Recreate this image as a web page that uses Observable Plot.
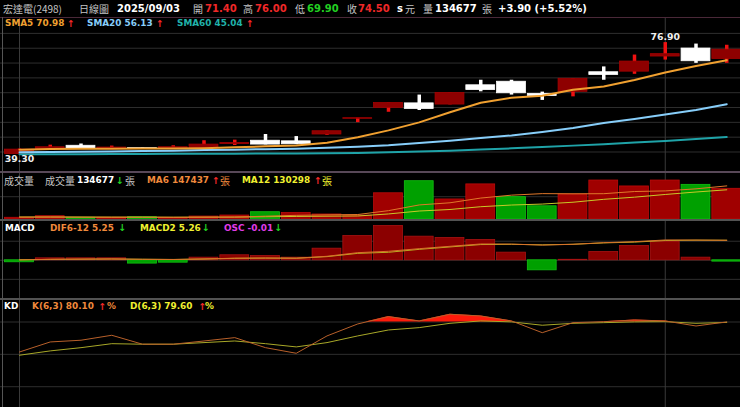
<!DOCTYPE html>
<html>
<head>
<meta charset="utf-8">
<script src="https://cdn.jsdelivr.net/npm/d3@7"></script>
<script src="https://cdn.jsdelivr.net/npm/@observablehq/plot@0.6"></script>
<style>
  html, body { margin: 0; padding: 0; background: #000; }
  #chart { position: relative; width: 740px; height: 407px; background: #000; overflow: hidden; }
  #chart svg { position: absolute; left: 0; }
  .ln { position: absolute; }
</style>
</head>
<body>
<div id="chart"></div>
<script>
// ---------------- data ----------------
const stockName = "宏達電";
const stockCode = "2498";
const periodName = "日線圖";
const dates = ["2025/08/01","2025/08/04","2025/08/05","2025/08/06","2025/08/07","2025/08/08","2025/08/11","2025/08/12",
  "2025/08/13","2025/08/14","2025/08/15","2025/08/18","2025/08/19","2025/08/20","2025/08/21","2025/08/22",
  "2025/08/25","2025/08/26","2025/08/27","2025/08/28","2025/08/29","2025/09/01","2025/09/02","2025/09/03"];
const open  = [39.3, 41.0, 42.1, 41.1, 41.3, 41.2, 41.3, 42.7, 43.8, 43.6, 45.9, 51.2, 54.9, 56.4, 56.0, 62.5, 63.7, 59.6, 60.3, 66.9, 67.1, 72.2, 74.9, 71.4];
const high  = [41.0, 42.3, 42.7, 42.0, 41.4, 42.1, 43.8, 44.0, 45.9, 45.2, 47.1, 51.4, 56.5, 59.2, 59.9, 64.2, 64.2, 60.2, 64.7, 68.7, 72.7, 76.9, 76.4, 76.0];
const low   = [39.3, 40.9, 41.0, 41.0, 40.9, 41.0, 41.2, 42.2, 42.4, 42.5, 45.6, 49.9, 53.4, 54.0, 55.9, 60.3, 59.2, 57.4, 58.6, 64.2, 66.2, 71.0, 69.9, 69.9];
const close = [40.8, 41.6, 41.1, 41.5, 41.1, 41.6, 42.5, 43.0, 42.5, 42.6, 47.0, 51.4, 56.5, 54.5, 59.9, 60.9, 59.8, 58.9, 64.7, 66.0, 70.5, 73.0, 70.6, 74.5];
const sma5  = [40.8, 41.0, 41.1, 41.1, 41.2, 41.2, 41.3, 41.6, 41.9, 42.2, 43.1, 45.0, 47.3, 50.0, 53.4, 56.6, 58.3, 59.0, 61.0, 62.1, 64.3, 66.8, 69.0, 70.98];
const sma20 = [39.9, 40.0, 40.1, 40.2, 40.3, 40.45, 40.65, 40.8, 40.95, 41.1, 41.4, 41.8, 42.25, 43.0, 43.8, 44.7, 45.6, 46.75, 48.1, 49.8, 51.15, 52.65, 54.2, 56.13];
const sma60 = [39.2, 39.23, 39.27, 39.3, 39.33, 39.37, 39.4, 39.44, 39.47, 39.5, 39.57, 39.67, 39.88, 40.15, 40.45, 40.82, 41.23, 41.67, 42.15, 42.65, 43.2, 43.75, 44.4, 45.04];
const volume = [7500, 14500, 7500, 7500, 10000, 7500, 13000, 17500, 32000, 29000, 22000, 17500, 115000, 168000, 88000, 154000, 98000, 58000, 110000, 171000, 145000, 171000, 152000, 134677];
const volMa6  = [10000, 10500, 10000, 9500, 9800, 9000, 9900, 10500, 14600, 18200, 20200, 21800, 38800, 63900, 73300, 94100, 106800, 113500, 112700, 113200, 122700, 125500, 134500, 147437];
const volMa12 = [11000, 11000, 10800, 10500, 10400, 10200, 10300, 10500, 12000, 13500, 14500, 15400, 24400, 37200, 43900, 56100, 63500, 67700, 75750, 88500, 98000, 109800, 120600, 130298];
const dif  = [0.10, 0.25, 0.30, 0.35, 0.25, 0.20, 0.35, 0.55, 0.60, 0.55, 1.05, 2.00, 2.36, 3.05, 3.67, 4.28, 4.25, 3.98, 4.20, 4.62, 4.88, 5.33, 5.30, 5.25];
const macd = [0.12, 0.24, 0.29, 0.34, 0.28, 0.22, 0.33, 0.51, 0.57, 0.53, 0.96, 1.82, 2.10, 2.87, 3.50, 4.13, 4.19, 4.06, 4.20, 4.56, 4.77, 5.19, 5.28, 5.26];
const osc  = [-0.015, 0.015, 0.015, 0.015, -0.025, -0.018, 0.02, 0.038, 0.033, 0.02, 0.088, 0.184, 0.26, 0.179, 0.169, 0.154, 0.058, -0.076, 0.004, 0.063, 0.108, 0.139, 0.02, -0.01];
const kLine = [52.2, 61.5, 63.1, 67.7, 59.4, 59.4, 62.4, 65.5, 56.2, 51.0, 67.1, 78.2, 85.0, 81.0, 87.2, 85.6, 81.0, 70.1, 79.4, 80.3, 81.9, 81.0, 76.3, 80.10];
const dLine = [49.2, 53.2, 56.2, 59.9, 59.4, 59.4, 60.9, 62.4, 59.9, 56.9, 60.9, 67.1, 72.6, 74.8, 78.8, 81.0, 80.1, 77.0, 78.8, 79.4, 80.1, 80.3, 78.8, 79.60];
const priceGrid = [40, 45, 50, 55, 60, 65, 70, 75, 80];
const volumeGrid = [100000];
const macdGrid = [-5, 0, 5];
const kdGrid = [20, 50, 80];
const kdOverbought = 80;

// ---------------- derived table ----------------
const L = dates.length - 1;
const bars = dates.map((date, i) => ({
  i, date, open: open[i], high: high[i], low: low[i], close: close[i],
  sma5: sma5[i], sma20: sma20[i], sma60: sma60[i],
  volume: volume[i], vma6: volMa6[i], vma12: volMa12[i],
  dif: dif[i], macd: macd[i], osc: osc[i], k: kLine[i], d: dLine[i],
  candleUp: close[i] >= open[i],
  dayUp: i === 0 ? true : close[i] >= close[i - 1]
}));
const monthStarts = bars.filter((b, i) => i === 0 || b.date.slice(0, 7) !== bars[i - 1].date.slice(0, 7)).map(b => b.i);
const hiBar = bars.reduce((a, b) => b.high > a.high ? b : a);
const loBar = bars.reduce((a, b) => b.low < a.low ? b : a);
// K above overbought level, with crossing points so the red fill ends at the line
const kFill = [];
bars.forEach((b, i) => {
  kFill.push({x: b.i, y: Math.max(b.k, kdOverbought)});
  const n = bars[i + 1];
  if (n && (b.k - kdOverbought) * (n.k - kdOverbought) < 0) {
    kFill.push({x: b.i + (kdOverbought - b.k) / (n.k - b.k), y: kdOverbought});
  }
});

// ---------------- layout ----------------
const chart = document.getElementById("chart");
const xScale = {domain: [-0.5, 23.5], range: [3.625, 741.625], axis: null};
const GRID = "#2e2e2e", VGRID = "#3a3a3a";
const RED_BODY = "#8e0000", RED_WICK = "#ee1111", WHITE = "#ffffff";
const VOL_RED = "#a00000", VOL_GREEN = "#00a000";

function panel(top, height, yDomain, marks) {
  const svg = Plot.plot({
    width: 740, height,
    marginTop: 0, marginBottom: 0, marginLeft: 0, marginRight: 0,
    x: xScale,
    y: {domain: yDomain, range: [height, 0], axis: null},
    color: {type: "identity"},
    style: {background: "transparent", overflow: "hidden", maxWidth: "none"},
    marks
  });
  svg.style.top = top + "px";
  chart.appendChild(svg);
}
const band = {x1: d => d.i - 0.5, x2: d => d.i + 0.5, insetLeft: 0.95, insetRight: 0.95};

// price panel
panel(17, 154, [33.423, 85.363], [
  Plot.ruleY(priceGrid, {stroke: GRID}),
  Plot.ruleX(monthStarts, {stroke: VGRID}),
  Plot.ruleX(bars, {x: "i", y1: "low", y2: "high", stroke: d => d.candleUp ? RED_WICK : WHITE, strokeWidth: 3.5}),
  Plot.rect(bars, {...band, y1: "open", y2: "close", fill: d => d.candleUp ? RED_BODY : WHITE, stroke: d => d.candleUp ? "#a40000" : WHITE, strokeWidth: 0.8}),
  Plot.line(bars, {x: "i", y: "sma60", stroke: "#1fa3a8", strokeWidth: 2}),
  Plot.line(bars, {x: "i", y: "sma20", stroke: "#87cefa", strokeWidth: 2}),
  Plot.line(bars, {x: "i", y: "sma5", stroke: "#f0a030", strokeWidth: 2}),
  Plot.text([hiBar], {x: "i", y: "high", text: d => d.high.toFixed(2), dy: -6, fill: "#f0f0f0", fontWeight: "bold", fontSize: 9.3, fontFamily: "DejaVu Sans"}),
  Plot.text([loBar], {x: "i", y: "low", text: d => d.low.toFixed(2), dy: 5, fill: "#f0f0f0", fontWeight: "bold", fontSize: 9.3, fontFamily: "DejaVu Sans"})
]);

// volume panel
panel(173, 46, [0, 201800], [
  Plot.ruleY(volumeGrid, {stroke: GRID}),
  Plot.ruleX(monthStarts, {stroke: VGRID}),
  Plot.rect(bars, {...band, y1: 0, y2: "volume", fill: d => d.dayUp ? VOL_RED : VOL_GREEN, stroke: d => d.dayUp ? "#bb0a0a" : "#12c012", strokeWidth: 0.8}),
  Plot.line(bars, {x: "i", y: "vma12", stroke: "#c8c828", strokeWidth: 1}),
  Plot.line(bars, {x: "i", y: "vma6", stroke: "#e0782a", strokeWidth: 1})
]);

// MACD panel (histogram drawn on its own scale, like the source chart)
const macdTop = 220.5, macdH = 77;
panel(macdTop, macdH, [-10.03, 10.18], [
  Plot.ruleY(macdGrid, {stroke: GRID}),
  Plot.ruleX(monthStarts, {stroke: VGRID})
]);
panel(macdTop, macdH, [-0.2894, 0.2939], [
  Plot.rect(bars, {...band, y1: 0, y2: "osc", fill: d => d.osc >= 0 ? "#8b0000" : VOL_GREEN, stroke: d => d.osc >= 0 ? "#a81212" : "#12c012", strokeWidth: 0.8})
]);
panel(macdTop, macdH, [-10.03, 10.18], [
  Plot.line(bars, {x: "i", y: "macd", stroke: "#b8b020", strokeWidth: 1}),
  Plot.line(bars, {x: "i", y: "dif", stroke: "#d8702a", strokeWidth: 1})
]);

// KD panel
panel(299.5, 108, [-0.21, 99.94], [
  Plot.ruleY(kdGrid, {stroke: GRID}),
  Plot.ruleX(monthStarts, {stroke: VGRID}),
  Plot.areaY(kFill, {x: "x", y1: kdOverbought, y2: "y", fill: "#ff1a0a"}),
  Plot.line(bars, {x: "i", y: "d", stroke: "#a8a828", strokeWidth: 1}),
  Plot.line(bars, {x: "i", y: "k", stroke: "#b8602a", strokeWidth: 1})
]);

// separators and borders
function hline(top, h, color) {
  const d = document.createElement("div");
  d.className = "ln";
  Object.assign(d.style, {left: "0px", top: top + "px", width: "740px", height: h + "px", background: color});
  chart.appendChild(d);
}
hline(16.5, 1, "#4a2838");
hline(171, 2, "#584858");
hline(218.5, 2, "#525252");
hline(297.5, 2, "#525252");
const vb = document.createElement("div");
vb.className = "ln";
Object.assign(vb.style, {left: "2px", top: "17px", width: "1px", height: "390px", background: "#555"});
chart.appendChild(vb);

// ---------------- text ----------------
const overlay = d3.create("svg").attr("width", 740).attr("height", 407).style("top", "0px").style("pointer-events", "none");
const FONTS = {
  head: "bold 10px 'DejaVu Sans'",
  lab: "bold 8.9px 'DejaVu Sans'",
  arr: "bold 9.5px 'DejaVu Sans'",
  cjk: "10px 'Noto Sans CJK TC'"
};
const GRAY = "#c4c4c4", RED = "#f02828", GREEN = "#22d022", ORANGE = "#f08a3c", YELLOW = "#f0f030", MAGENTA = "#e03ce8";
function put(x, y, text, color, kind) {
  overlay.append("text").attr("x", x).attr("y", y).attr("dominant-baseline", "central")
    .attr("fill", color).style("font", FONTS[kind]).text(text);
}
function arrow(x, y, arr) {
  const up = arr[L] >= arr[L - 1];
  put(x, y, up ? "↑" : "↓", up ? RED : GREEN, "arr");
}
const f2 = v => v.toFixed(2);
const prevClose = close[L - 1];
const cmp = v => v > prevClose ? RED : v < prevClose ? GREEN : WHITE;
const change = close[L] - prevClose;
const pct = change / prevClose * 100;
const sgn = v => (v >= 0 ? "+" : "") + v.toFixed(2);

let y = 8;
put(3, y, `${stockName}(${stockCode})`, GRAY, "cjk");
put(79, y, periodName, GRAY, "cjk");
put(117, y, dates[L], WHITE, "head");
put(193, y, "開", GRAY, "cjk"); put(205, y, f2(open[L]), cmp(open[L]), "head");
put(243, y, "高", GRAY, "cjk"); put(255, y, f2(high[L]), cmp(high[L]), "head");
put(295, y, "低", GRAY, "cjk"); put(307, y, f2(low[L]), cmp(low[L]), "head");
put(347, y, "收", GRAY, "cjk"); put(358, y, f2(close[L]), cmp(close[L]), "head");
put(397, y, "s", WHITE, "head"); put(405, y, "元", GRAY, "cjk");
put(423, y, "量", GRAY, "cjk"); put(435, y, String(volume[L]), WHITE, "head"); put(482, y, "張", GRAY, "cjk");
put(498, y, `${sgn(change)} (${sgn(pct)}%)`, WHITE, "head");

y = 23;
put(5, y, `SMA5 ${f2(sma5[L])}`, "#f0a030", "lab"); arrow(67, y, sma5);
put(87, y, `SMA20 ${f2(sma20[L])}`, "#87cefa", "lab"); arrow(156, y, sma20);
put(177, y, `SMA60 ${f2(sma60[L])}`, "#20b2aa", "lab"); arrow(246, y, sma60);

y = 180.3;
put(4, y, "成交量", GRAY, "cjk");
put(45, y, "成交量", GRAY, "cjk");
put(77, y, String(volume[L]), WHITE, "lab"); arrow(116, y, volume); put(125, y, "張", GRAY, "cjk");
put(147, y, `MA6 ${volMa6[L]}`, ORANGE, "lab"); arrow(212, y, volMa6); put(220, y, "張", ORANGE, "cjk");
put(242, y, `MA12 ${volMa12[L]}`, YELLOW, "lab"); arrow(314, y, volMa12); put(322, y, "張", YELLOW, "cjk");

y = 227.5;
put(5, y, "MACD", WHITE, "lab");
put(50, y, `DIF6-12 ${f2(dif[L])}`, ORANGE, "lab"); arrow(118.5, y, dif);
put(140, y, `MACD2 ${f2(macd[L])}`, YELLOW, "lab"); arrow(202, y, macd);
put(224, y, `OSC ${f2(osc[L])}`, MAGENTA, "lab"); arrow(274.5, y, osc);

y = 306.3;
put(4, y, "KD", WHITE, "lab");
put(32, y, `K(6,3) ${f2(kLine[L])}`, ORANGE, "lab"); arrow(98.5, y, kLine); put(107, y, "%", ORANGE, "lab");
put(130, y, `D(6,3) ${f2(dLine[L])}`, YELLOW, "lab"); arrow(198.5, y, dLine); put(205, y, "%", YELLOW, "lab");

chart.appendChild(overlay.node());
</script>
</body>
</html>
